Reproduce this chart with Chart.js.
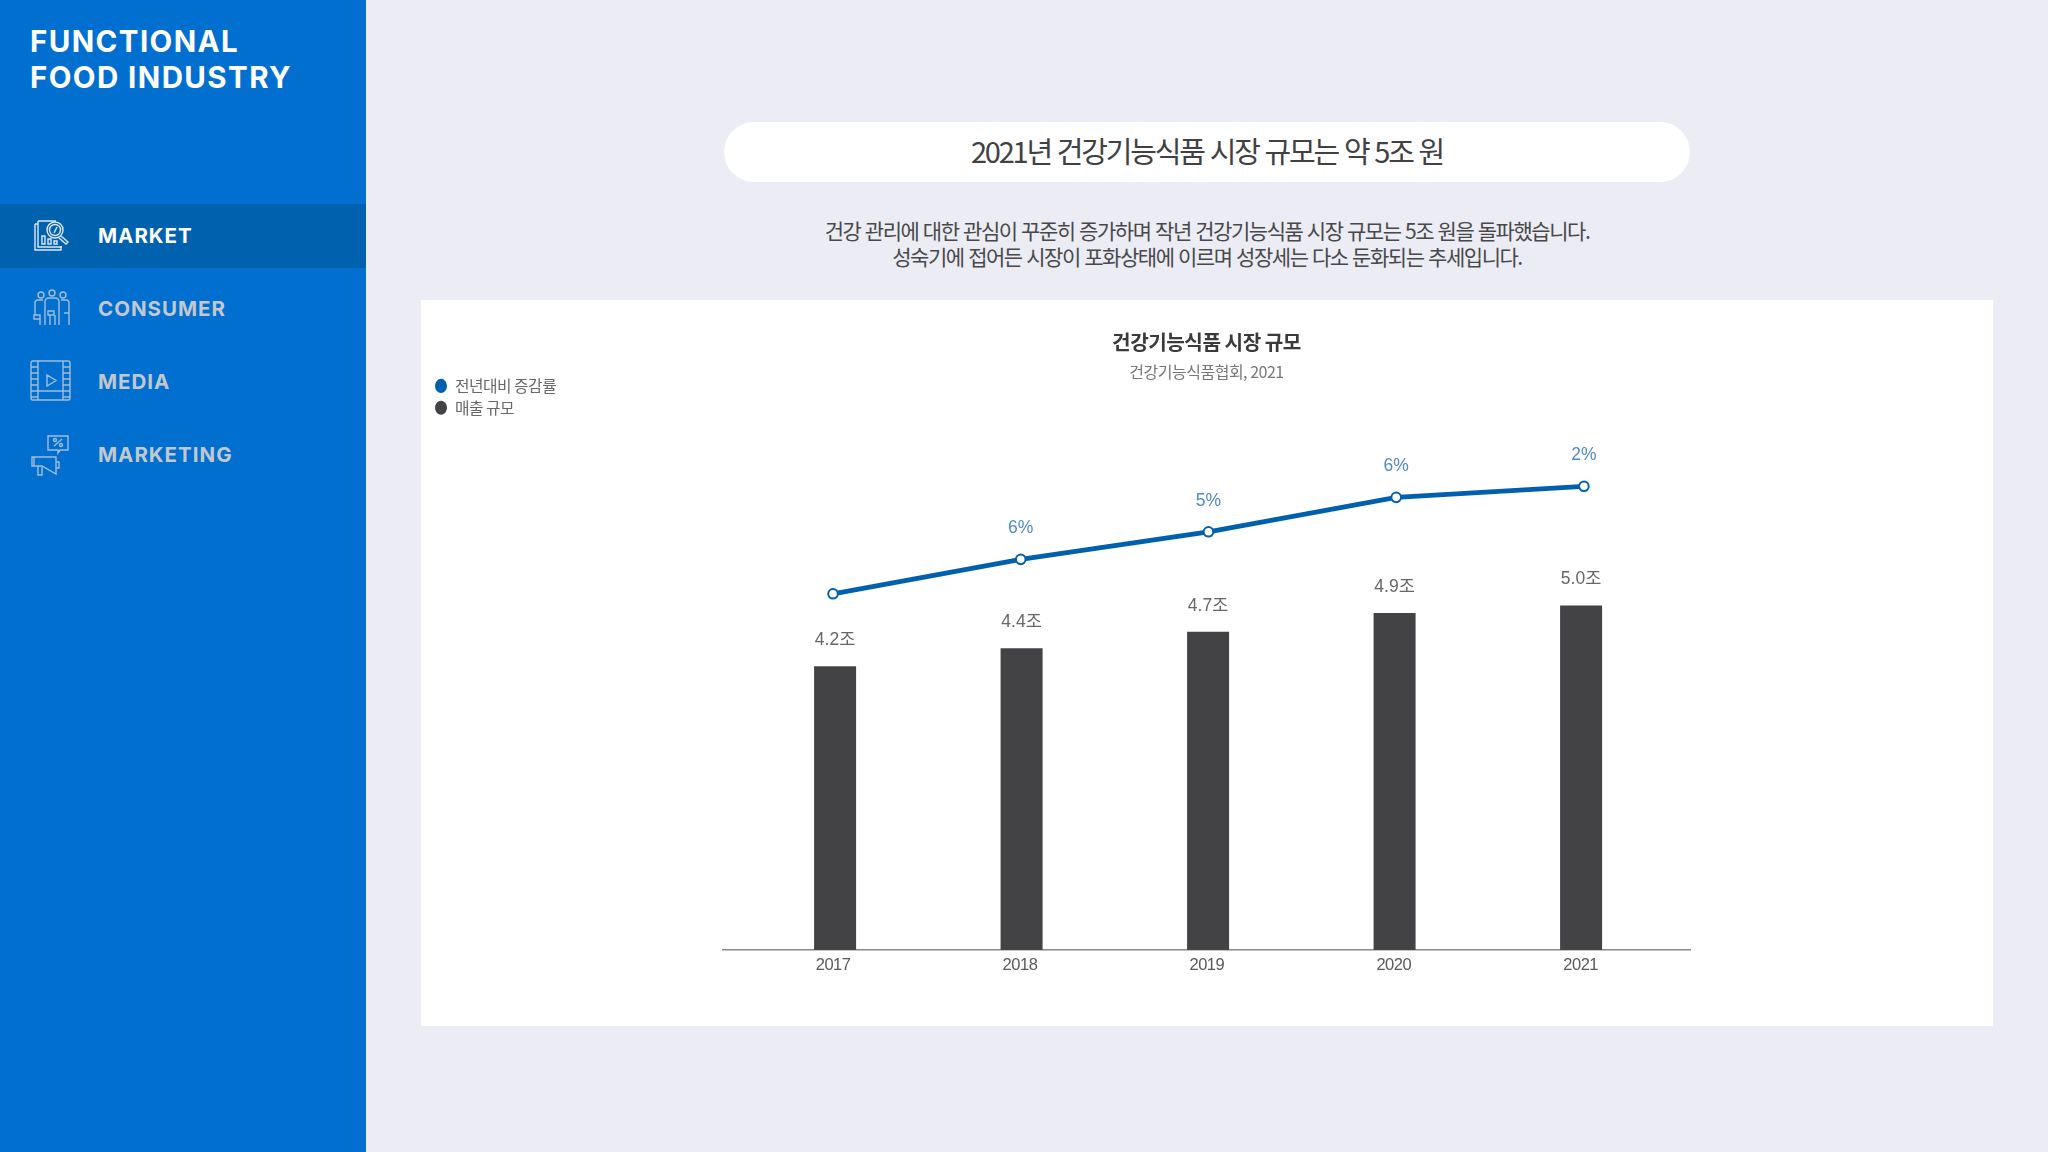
<!DOCTYPE html>
<html lang="ko">
<head>
<meta charset="utf-8">
<title>건강기능식품 시장 규모</title>
<script src="https://cdn.jsdelivr.net/npm/chart.js@4"></script>
<style>
  * { box-sizing: border-box; margin: 0; padding: 0; }
  html, body { width: 2048px; height: 1152px; overflow: hidden; background: #ebecf4; font-family: "Noto Sans CJK KR", sans-serif; }

  /* ── Sidebar ── */
  .side { position: absolute; left: 0; top: 0; width: 366px; height: 1152px; background: #006fcf; }
  .brand { position: absolute; left: 30px; top: 23px; font: 700 29.5px/36px Inter, sans-serif; color: #fff; letter-spacing: 1.4px; }
  .menu { position: absolute; left: 0; width: 366px; height: 64px; }
  .menu.active { background: #0062ae; }
  .menu span { position: absolute; left: 98px; top: 0; font: 700 20.5px/64px Inter, sans-serif; color: #c3c8cf; letter-spacing: 1px; }
  .menu.active span { color: #fff; }
  .menu svg { position: absolute; left: 28px; top: 8px; width: 46px; height: 46px; fill: none; stroke: #a3bcd8; stroke-width: 1.4; }
  .menu.active svg { stroke: #dbe8f5; }

  /* ── Header ── */
  .pill { position: absolute; left: 724px; top: 122px; width: 966px; height: 60px; border-radius: 30px; background: #fff;
          text-align: center; font-size: 29px; line-height: 57px; color: #414143; letter-spacing: -2.2px; }
  .lead { position: absolute; left: 724px; top: 217px; width: 966px; text-align: center; font-size: 21px; line-height: 26px; color: #48484a; letter-spacing: -1.45px; }

  /* ── Chart panel ── */
  .panel { position: absolute; left: 421px; top: 300px; width: 1572px; height: 726px; background: #fff; }
  .panel canvas { display: block; }
</style>
</head>
<body>

<div class="side">
  <div class="brand">FUNCTIONAL<br>FOOD INDUSTRY</div>

  <div class="menu active" style="top:204px">
    <svg viewBox="0 0 46 46"><path d="M10 9h18M7 12h3V9M7 12v26h26v-4M10 9v26h24"/><circle cx="27" cy="18" r="8"/><circle cx="27" cy="18" r="5.5"/><path d="M33 24l7 6-2 2-7-6M14 24v8h3v-8zM20 27v5h3v-5zM26 29v3h3v-3zM26 21l3-6"/></svg>
    <span>MARKET</span>
  </div>
  <div class="menu" style="top:277px">
    <svg viewBox="0 0 46 46"><circle cx="13" cy="10" r="3"/><circle cx="24" cy="8" r="3"/><circle cx="35" cy="10" r="3"/><path d="M7 30V18q0-3 3-3h5M41 40V18q0-3-3-3h-5M17 40V17q0-4 4-4h6q4 0 4 4v23M22 40V30M27 40V30M12 40V32M6 30h6v4H6zM20 26h6v4h-6zM36 28h5"/></svg>
    <span>CONSUMER</span>
  </div>
  <div class="menu" style="top:350px">
    <svg viewBox="0 0 46 46"><rect x="3" y="3" width="39" height="39" rx="2"/><path d="M10 3v39M35 3v39M3 9h7M3 15h7M3 21h7M3 27h7M3 33h7M3 39h7M35 9h7M35 15h7M35 21h7M35 27h7M35 33h7M35 39h7M10 33h25M19 17v11l9-5.5z"/></svg>
    <span>MEDIA</span>
  </div>
  <div class="menu" style="top:423px">
    <svg viewBox="0 0 46 46"><path d="M20 5h20v14H32l-2 3v-3h-10zM26 15l8-7"/><circle cx="27" cy="9" r="1.5"/><circle cx="33" cy="14" r="1.5"/><path d="M28 26v17L14 35H6v-9h8zM6 26H4v9h2M10 35v9h4v-8M28 31h3v6h-3"/></svg>
    <span>MARKETING</span>
  </div>
</div>

<div class="pill">2021년 건강기능식품 시장 규모는 약 5조 원</div>
<div class="lead">건강 관리에 대한 관심이 꾸준히 증가하며 작년 건강기능식품 시장 규모는 5조 원을 돌파했습니다.<br>성숙기에 접어든 시장이 포화상태에 이르며 성장세는 다소 둔화되는 추세입니다.</div>

<div class="panel"><canvas id="marketChart" width="1572" height="726"></canvas></div>

<script>
const years = [2017, 2018, 2019, 2020, 2021];

// bar heights as measured, in 조 won; the printed labels are rounded differently
const salesValues = [4.12, 4.38, 4.62, 4.89, 5.0];
const salesLabels = ['4.2조', '4.4조', '4.7조', '4.9조', '5.0조'];

// the growth line is not to scale with its labels, so these are read off the same axis as the bars
const growthLevels = [5.17, 5.67, 6.07, 6.57, 6.73];
const growthLabels = ['', '6%', '5%', '6%', '2%'];

const seriesNames = ['전년대비 증감률', '매출 규모'];
const BLUE = '#0060ae';
const DARK = '#434244';
const FONT = '"Noto Sans CJK KR", sans-serif';
const NUM_FONT = '"Liberation Sans", "Noto Sans CJK KR", sans-serif';

// Tighter tracking for all chart text, set before layout measures anything
const tightText = {
  id: 'tightText',
  beforeUpdate(chart) { chart.ctx.letterSpacing = '-0.5px'; },
  beforeDraw(chart) { chart.ctx.letterSpacing = '-0.5px'; }
};

// Value labels above bars and points
const valueLabels = {
  id: 'valueLabels',
  afterDatasetsDraw(chart) {
    const ctx = chart.ctx;
    ctx.save();
    ctx.letterSpacing = '0px';
    ctx.textAlign = 'center';
    ctx.textBaseline = 'middle';
    ctx.font = '17.5px ' + NUM_FONT;

    ctx.fillStyle = '#4f8ac6';
    chart.getDatasetMeta(0).data.forEach((pt, i) => {
      ctx.fillText(growthLabels[i], pt.x, pt.y - 31);
    });

    ctx.fillStyle = '#666668';
    chart.getDatasetMeta(1).data.forEach((bar, i) => {
      ctx.fillText(salesLabels[i], bar.x, bar.y - 26);
    });
    ctx.restore();
  }
};

// Legend sits beside the title block, not under it
const legendAtTop = {
  id: 'legendAtTop',
  afterLayout(chart) {
    chart.legend.top = 72;
  }
};

new Chart(document.getElementById('marketChart'), {
  type: 'bar',
  plugins: [tightText, valueLabels, legendAtTop],
  data: {
    datasets: [
      {
        type: 'line',
        label: seriesNames[0],
        data: years.map((y, i) => ({ x: y, y: growthLevels[i] })),
        xAxisID: 'xLine',
        yAxisID: 'y',
        borderColor: BLUE,
        borderWidth: 4.8,
        backgroundColor: BLUE,
        tension: 0,
        pointRadius: 4.8,
        pointBorderWidth: 2,
        pointBackgroundColor: '#fff',
        pointBorderColor: BLUE,
        order: 0
      },
      {
        type: 'bar',
        label: seriesNames[1],
        data: years.map((y, i) => ({ x: y, y: salesValues[i] })),
        xAxisID: 'xBar',
        yAxisID: 'y',
        backgroundColor: DARK,
        grouped: false,   // keeps each bar on its own x value with several x axes around
        maxBarThickness: 42,
        order: 1
      }
    ]
  },
  options: {
    responsive: false,
    animation: false,
    layout: { padding: { left: 8, right: 303, top: 0, bottom: 0 } },
    plugins: {
      tooltip: { enabled: false },
      title: {
        display: true,
        fullSize: false,
        text: '건강기능식품 시장 규모',
        color: '#3a3a3c',
        font: { family: FONT, size: 20.2, weight: '700', lineHeight: 1.25 },
        padding: { top: 30, bottom: 3 }
      },
      subtitle: {
        display: true,
        fullSize: false,
        text: '건강기능식품협회, 2021',
        color: '#77777a',
        font: { family: FONT, size: 16, weight: '400', lineHeight: 1.2 },
        padding: { top: 4, bottom: 8.4 }
      },
      legend: {
        position: 'left',
        align: 'start',
        labels: {
          usePointStyle: true,
          pointStyleWidth: 12,
          boxHeight: 10,
          padding: 6,
          color: '#69696b',
          font: { family: FONT, size: 15.8 },
          generateLabels(chart) {
            const colors = [BLUE, DARK];
            return Chart.defaults.plugins.legend.labels.generateLabels(chart).map((item, i) => ({
              ...item,
              fillStyle: colors[i],
              strokeStyle: colors[i],
              lineWidth: 0,
              pointStyle: 'circle'
            }));
          }
        }
      }
    },
    scales: {
      // visible axis: the year labels
      x: {
        type: 'linear',
        offset: false,
        min: 2016.411,
        max: 2021.585,
        grid: { display: false, offset: false, drawTicks: false },
        border: { display: true, color: '#8a8a8c', width: 1.5 },
        afterBuildTicks(axis) { axis.ticks = years.map(v => ({ value: v })); },
        afterFit(axis) { axis.height = 76; },
        ticks: {
          padding: 6,
          autoSkip: false,
          maxRotation: 0,
          color: '#59595b',
          font: { family: NUM_FONT, size: 16.5 },
          callback: v => String(v)
        }
      },
      // the reference's line and bars do not share the labels' spacing exactly
      xLine: {
        type: 'linear',
        position: 'bottom',
        display: false,
        offset: false,
        min: 2016.414,
        max: 2021.565
      },
      xBar: {
        type: 'linear',
        position: 'bottom',
        display: false,
        offset: false,
        min: 2016.399,
        max: 2021.584
      },
      y: {
        type: 'linear',
        min: 0,
        max: 8.13,
        grid: { display: false },
        border: { display: false },
        ticks: { display: false },
        // pushes the plot so the baseline starts where the header pill starts
        afterFit(axis) {
          axis.width = 302 - 8 - (axis.chart.legend ? axis.chart.legend.width : 0);
        }
      }
    }
  }
});
</script>
</body>
</html>
